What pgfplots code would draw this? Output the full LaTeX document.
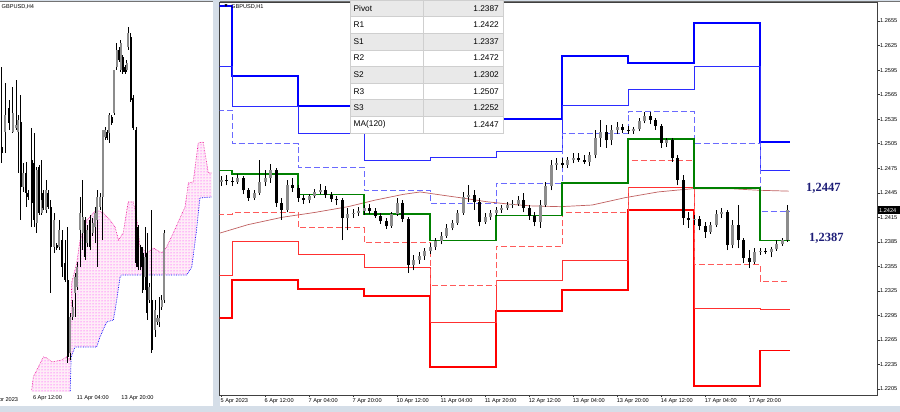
\documentclass[border=0pt]{standalone}
\usepackage{fontspec}
\setmainfont{Liberation Sans}
\newfontfamily\annfont{Liberation Serif}
\usepackage{pgfplots}
\usepackage{pgfplotstable}
\pgfplotsset{compat=1.18}
\usepgfplotslibrary{fillbetween}
\usetikzlibrary{patterns}
\pgfplotsset{/tikz/fill between/on layer=main}
\definecolor{winframe}{HTML}{D5DEE8}
\definecolor{rthree}{HTML}{0000FF}
\definecolor{rtwo}{HTML}{2B2BFF}
\definecolor{rone}{HTML}{6A6AFF}
\definecolor{pivg}{HTML}{008000}
\definecolor{sone}{HTML}{FF5A5A}
\definecolor{stwo}{HTML}{FF3030}
\definecolor{sthree}{HTML}{FF0000}
\definecolor{maline}{HTML}{C06060}
\definecolor{upc}{HTML}{8C8C8C}
\definecolor{annc}{HTML}{1E1E78}
\definecolor{rowg}{HTML}{E9E9E9}
\definecolor{cellb}{HTML}{CFCFCF}
\newcommand{\tiklab}{\fontsize{5.6}{6.5}\selectfont}

% H1 candles, 2-hour steps (bar index, 1 bar = 1 hour)
\pgfplotstableread{
i O H L C
0 1.2458 1.2465 1.2453 1.2461
2 1.2461 1.2467 1.2454 1.2459
4 1.2459 1.2464 1.2453 1.2458
6 1.2458 1.2468 1.2456 1.2463
8 1.2463 1.2465 1.2443 1.2448
10 1.2448 1.2451 1.2435 1.2439
12 1.2439 1.2448 1.2436 1.2445
14 1.2445 1.2485 1.2442 1.2458
16 1.2458 1.2473 1.2453 1.2463
18 1.2463 1.2480 1.2457 1.2473
20 1.2473 1.2475 1.2428 1.2432
22 1.2432 1.2439 1.2412 1.2424
24 1.2424 1.2461 1.2421 1.2454
26 1.2454 1.2463 1.2446 1.2451
28 1.2451 1.2454 1.2434 1.2439
30 1.2439 1.2442 1.2431 1.2436
32 1.2436 1.2443 1.2432 1.2441
34 1.2441 1.2450 1.2439 1.2446
36 1.2446 1.2456 1.2443 1.2448
38 1.2448 1.2453 1.2439 1.2442
40 1.2442 1.2446 1.2434 1.2437
42 1.2437 1.2441 1.2430 1.2436
44 1.2436 1.2439 1.2387 1.2414
46 1.2414 1.2426 1.2399 1.2419
48 1.2419 1.2425 1.2414 1.2420
50 1.2420 1.2428 1.2417 1.2423
52 1.2423 1.2430 1.2418 1.2426
54 1.2426 1.2431 1.2419 1.2423
56 1.2423 1.2426 1.2414 1.2417
58 1.2417 1.2420 1.2407 1.2410
60 1.2410 1.2414 1.2401 1.2404
62 1.2404 1.2421 1.2402 1.2419
64 1.2419 1.2439 1.2417 1.2432
66 1.2432 1.2436 1.2409 1.2413
68 1.2413 1.2415 1.2347 1.2357
70 1.2357 1.2369 1.2350 1.2363
72 1.2363 1.2372 1.2358 1.2368
74 1.2368 1.2377 1.2363 1.2374
76 1.2374 1.2384 1.2370 1.2379
78 1.2379 1.2390 1.2375 1.2386
80 1.2386 1.2397 1.2382 1.2392
82 1.2392 1.2407 1.2390 1.2402
84 1.2402 1.2412 1.2399 1.2408
86 1.2408 1.2424 1.2406 1.2420
88 1.2420 1.2446 1.2418 1.2440
90 1.2440 1.2454 1.2434 1.2442
92 1.2442 1.2448 1.2424 1.2434
94 1.2434 1.2439 1.2404 1.2409
96 1.2409 1.2420 1.2407 1.2415
98 1.2415 1.2424 1.2412 1.2420
100 1.2420 1.2428 1.2417 1.2424
102 1.2424 1.2430 1.2420 1.2426
104 1.2426 1.2434 1.2424 1.2430
106 1.2430 1.2436 1.2426 1.2431
108 1.2431 1.2441 1.2429 1.2436
110 1.2436 1.2445 1.2421 1.2426
112 1.2426 1.2430 1.2412 1.2417
114 1.2417 1.2421 1.2404 1.2409
116 1.2409 1.2436 1.2402 1.2430
118 1.2430 1.2458 1.2428 1.2453
120 1.2453 1.2485 1.2448 1.2479
122 1.2479 1.2487 1.2473 1.2481
124 1.2481 1.2487 1.2475 1.2479
126 1.2479 1.2489 1.2475 1.2485
128 1.2485 1.2494 1.2481 1.2487
130 1.2487 1.2494 1.2483 1.2485
132 1.2485 1.2491 1.2480 1.2483
134 1.2483 1.2495 1.2478 1.2491
136 1.2491 1.2522 1.2487 1.2512
138 1.2512 1.2534 1.2501 1.2519
140 1.2519 1.2528 1.2500 1.2509
142 1.2509 1.2528 1.2503 1.2522
144 1.2522 1.2531 1.2517 1.2525
146 1.2525 1.2529 1.2518 1.2522
148 1.2522 1.2527 1.2517 1.2520
150 1.2520 1.2525 1.2517 1.2523
152 1.2523 1.2536 1.2520 1.2533
154 1.2533 1.2544 1.2530 1.2539
156 1.2539 1.2544 1.2529 1.2534
158 1.2534 1.2536 1.2522 1.2527
160 1.2527 1.2529 1.2500 1.2506
162 1.2506 1.2512 1.2501 1.2509
164 1.2509 1.2512 1.2483 1.2487
166 1.2487 1.2491 1.2454 1.2461
168 1.2461 1.2467 1.2406 1.2414
170 1.2414 1.2421 1.2402 1.2412
172 1.2412 1.2418 1.2406 1.2413
174 1.2413 1.2417 1.2399 1.2404
176 1.2404 1.2409 1.2390 1.2397
178 1.2397 1.2409 1.2395 1.2406
180 1.2406 1.2424 1.2403 1.2419
182 1.2419 1.2426 1.2414 1.2421
184 1.2421 1.2424 1.2375 1.2381
186 1.2381 1.2412 1.2377 1.2406
188 1.2406 1.2430 1.2377 1.2387
190 1.2387 1.2390 1.2359 1.2365
192 1.2365 1.2375 1.2353 1.2360
194 1.2360 1.2377 1.2358 1.2372
196 1.2372 1.2377 1.2369 1.2374
198 1.2374 1.2377 1.2370 1.2372
200 1.2372 1.2379 1.2366 1.2376
202 1.2376 1.2387 1.2374 1.2382
204 1.2382 1.2390 1.2380 1.2387
206 1.2387 1.2430 1.2385 1.2424
}\hone

% daily pivot levels (start bar of each day)
\pgfplotstableread{
i R3 R2 R1 P S1 S2 S3
-1 1.2673 1.2599 1.2546 1.2472 1.2419 1.2344 1.2292
4 1.2588 1.2551 1.2505 1.2468 1.2421 1.2385 1.2338
28 1.2551 1.2518 1.2476 1.2443 1.2402 1.2369 1.2327
52 1.2525 1.2484 1.2448 1.2419 1.2384 1.2354 1.2319
76 1.2533 1.2488 1.2432 1.2387 1.2332 1.2287 1.2232
100 1.2535 1.2495 1.2457 1.2417 1.2379 1.2338 1.2300
124 1.2612 1.2552 1.2517 1.2457 1.2421 1.2362 1.2326
148 1.2604 1.2571 1.2544 1.2511 1.2484 1.2451 1.2424
172 1.2653 1.2599 1.2505 1.2451 1.2357 1.2303 1.2209
196 1.2507 1.2472 1.2422 1.2387 1.2337 1.2302 1.2252
206.9 1.2507 1.2472 1.2422 1.2387 1.2337 1.2302 1.2252
}\piv

\pgfplotstableread{
i MA
-1.1 1.2395
9.8 1.2406
22.2 1.2415
34.2 1.2421
46.2 1.2428
56 1.2436
66.2 1.2443
72.4 1.2446
78.5 1.2443
86.9 1.2439
96.7 1.2434
105.1 1.2431
112.4 1.2429
123.3 1.2428
134.9 1.2430
146.9 1.2439
158.9 1.2446
165.1 1.2448
171.6 1.2450
185.1 1.2450
196 1.2448
206.5 1.2447
}\ma

% H4 candles
\pgfplotstableread{
j O H L C
0.6 1.24718 1.25198 1.24622 1.24682
1.9 1.24808 1.25102 1.24682 1.24910
3.3 1.24952 1.25000 1.24820 1.24862
4.5 1.24808 1.25078 1.24802 1.24922
5.7 1.24832 1.25120 1.24820 1.24850
6.5 1.24808 1.24910 1.24562 1.24880
7.4 1.24868 1.25030 1.24280 1.24478
8.3 1.24478 1.24622 1.24448 1.24562
9.3 1.24562 1.24628 1.24358 1.24442
10.1 1.24442 1.24460 1.24400 1.24418
11.3 1.24640 1.24832 1.24238 1.24382
12.1 1.24622 1.24802 1.24238 1.24280
13.1 1.24262 1.24598 1.24202 1.24580
14.0 1.24598 1.24610 1.24310 1.24322
14.9 1.24322 1.24640 1.24310 1.24400
15.5 1.24442 1.24460 1.24340 1.24352
16.4 1.24340 1.24520 1.24322 1.24460
17.3 1.24442 1.24460 1.24346 1.24358
18.1 1.24358 1.24400 1.23842 1.24118
19.3 1.24118 1.24322 1.24082 1.24280
20.2 1.24130 1.24142 1.24100 1.24112
21.2 1.24118 1.24280 1.24100 1.24220
22.1 1.24160 1.24220 1.23938 1.23998
23.2 1.24022 1.24160 1.23908 1.23920
24.2 1.23920 1.24238 1.23422 1.23458
25.0 1.23482 1.23722 1.23440 1.23698
26.0 1.23698 1.23800 1.23680 1.23758
26.8 1.23842 1.23962 1.23698 1.23938
27.6 1.23878 1.24028 1.23860 1.23998
28.6 1.24220 1.24418 1.23998 1.24322
29.5 1.24202 1.24520 1.24100 1.24298
30.5 1.24280 1.24298 1.24040 1.24058
31.2 1.24142 1.24250 1.24118 1.24220
32.1 1.24280 1.24310 1.24100 1.24118
33.1 1.24202 1.24292 1.24184 1.24262
33.9 1.24238 1.24358 1.24142 1.24322
34.8 1.24280 1.24460 1.23998 1.24418
35.7 1.24358 1.24442 1.24340 1.24418
36.7 1.24418 1.24820 1.24160 1.24820
37.6 1.24778 1.24838 1.24760 1.24820
38.3 1.24808 1.24820 1.24760 1.24772
39.0 1.24802 1.24922 1.24742 1.24910
39.9 1.24898 1.24910 1.24850 1.24862
40.7 1.24922 1.25180 1.24910 1.25180
41.7 1.25198 1.25342 1.25180 1.25300
42.5 1.25300 1.25318 1.25228 1.25240
43.1 1.25180 1.25360 1.25168 1.25342
43.8 1.25258 1.25270 1.25156 1.25168
44.6 1.25198 1.25210 1.25156 1.25168
45.2 1.25180 1.25240 1.25168 1.25222
45.8 1.25318 1.25438 1.25300 1.25402
46.7 1.25378 1.25402 1.24988 1.25000
47.6 1.25012 1.25030 1.24820 1.24832
48.6 1.24820 1.24838 1.23998 1.24022
49.4 1.24238 1.24250 1.23980 1.23998
50.2 1.24118 1.24130 1.23980 1.23998
51.0 1.24082 1.24118 1.23842 1.23860
51.8 1.23938 1.24238 1.23860 1.24058
52.5 1.24082 1.24202 1.23680 1.23722
53.3 1.23800 1.23902 1.23782 1.23878
54.2 1.23800 1.24340 1.23482 1.23500
55.4 1.23620 1.23800 1.23578 1.23740
56.2 1.23668 1.23710 1.23650 1.23692
56.9 1.23668 1.23818 1.23638 1.23692
57.7 1.23758 1.23830 1.23740 1.23800
58.6 1.23800 1.24220 1.23782 1.24202
}\hfour

\pgfplotstableread{
j v
11.3 1.23260
11.9 1.23338
15.5 1.23458
16.7 1.23452
18.5 1.23428
22.0 1.23440
23.8 1.23458
25.0 1.23440
25.6 1.23902
27.4 1.24022
28.6 1.24160
31.0 1.24280
34.5 1.24340
36.9 1.24322
39.3 1.24280
41.1 1.24238
42.3 1.24160
44.0 1.24202
45.8 1.24388
47.6 1.24388
48.8 1.24298
50.0 1.24118
52.4 1.24082
54.8 1.24112
57.7 1.24082
59.5 1.24118
61.9 1.24202
64.3 1.24292
66.1 1.24358
67.3 1.24502
69.0 1.24508
70.8 1.24742
72.6 1.24748
74.4 1.24562
75.6 1.24562
}\spanA

\pgfplotstableread{
j v
11.3 1.2320
25.0 1.2320
25.4 1.23458
26.8 1.23518
34.5 1.23518
35.7 1.23578
38.1 1.23668
40.5 1.23680
41.7 1.23800
42.9 1.23938
43.5 1.23950
66.7 1.23950
68.5 1.23998
70.2 1.24220
71.4 1.24412
75.6 1.24418
}\spanB

\pgfplotsset{
  wick/.style={draw=none, mark=none, forget plot,
    error bars/.cd, y dir=plus, y explicit, error mark=none,
    error bar style={line width=#1, draw=black, solid}},
  upbody/.style 2 args={draw=none, mark=none, forget plot,
    restrict expr to domain={\thisrow{C}-\thisrow{O}}{0:1},
    error bars/.cd, y dir=plus, y explicit, error mark=none,
    error bar style={line width=#1, draw=#2, solid}},
  dnbody/.style={draw=none, mark=none, forget plot,
    restrict expr to domain={\thisrow{C}-\thisrow{O}}{-1:0},
    error bars/.cd, y dir=plus, y explicit, error mark=none,
    error bar style={line width=#1, draw=black, solid}},
}

\begin{document}
\begin{tikzpicture}[x=1pt,y=1pt]
\fill[winframe] (-20pt,-10pt) rectangle (920pt,420pt);
\fill[white] (0pt,6pt) rectangle (212.5pt,411pt);
\fill[white] (219.5pt,6pt) rectangle (900pt,411pt);
\draw[black!55, line width=0.6pt] (0pt,411pt) -- (212.5pt,411pt);
\draw[black!55, line width=0.6pt] (219.5pt,411pt) -- (900pt,411pt);

% ---------------- left panel (H4) ----------------
\begin{axis}[
  at={(0pt,20pt)}, anchor=south west, scale only axis,
  width=212.5pt, height=390.5pt,
  xmin=0, xmax=75.9, ymin=1.23248, ymax=1.25591,
  axis x line*=bottom, axis y line*=right,
  axis line style={draw=black!75, line width=0.6pt},
  xtick={11.9,27.6,43.5},
  xticklabels={6 Apr 12:00,11 Apr 04:00,13 Apr 20:00},
  xticklabel style={anchor=north west, inner sep=0pt, font=\tiklab, xshift=-0.5pt, yshift=-0.5pt},
  ytick=\empty,
  tick align=outside, major tick length=2.5pt,
  tick style={black!80, line width=0.5pt},
  xtick pos=bottom,
]
\addplot[name path=spa, draw=none, forget plot] table[x=j, y=v] {\spanA};
\addplot[name path=spb, draw=none, forget plot] table[x=j, y=v] {\spanB};
\addplot[fill=magenta!7, draw=none, forget plot] fill between[of=spa and spb];
\addplot[pattern=dots, pattern color=magenta!90, draw=none, forget plot] fill between[of=spa and spb];
\addplot[magenta, densely dotted, line width=0.6pt, forget plot] table[x=j, y=v] {\spanA};
\addplot[blue, densely dotted, line width=0.7pt, forget plot] table[x=j, y=v] {\spanB};
\addplot[wick=0.6pt] table[x=j, y=L, y error expr=\thisrow{H}-\thisrow{L}] {\hfour};
\addplot[upbody={2pt}{upc}] table[x=j, y=O, y error expr=\thisrow{C}-\thisrow{O}] {\hfour};
\addplot[dnbody=2pt] table[x=j, y=C, y error expr=\thisrow{O}-\thisrow{C}] {\hfour};
\end{axis}
\node[anchor=west, inner sep=0pt, font=\tiklab] at (-9.5pt,11.5pt) {4 Apr 2023};
\node[anchor=west, inner sep=0pt, font=\tiklab] at (1.5pt,405.5pt) {GBPUSD,H4};

% ---------------- right panel (H1) ----------------
\begin{axis}[
  at={(219.5pt,17pt)}, anchor=south west, scale only axis,
  width=657.5pt, height=393pt,
  xmin=-0.545, xmax=238.5, ymin=1.21977, ymax=1.26783,
  axis line style={draw=black!75, line width=0.6pt},
  xtick={0,16,32,48,64,80,96,112,128,144,160,176,192},
  xticklabels={5 Apr 2023,6 Apr 12:00,7 Apr 04:00,7 Apr 20:00,10 Apr 12:00,11 Apr 04:00,11 Apr 20:00,12 Apr 12:00,13 Apr 04:00,13 Apr 20:00,14 Apr 12:00,17 Apr 04:00,17 Apr 20:00},
  xticklabel style={anchor=north west, inner sep=0pt, font=\tiklab, xshift=-0.5pt, yshift=-0.5pt},
  ytick={1.2205,1.2235,1.2265,1.2295,1.2325,1.2355,1.2385,1.2415,1.2445,1.2475,1.2505,1.2535,1.2565,1.2595,1.2625,1.2655},
  yticklabel pos=right,
  yticklabel style={anchor=west, inner sep=0pt, font=\tiklab, xshift=0.5pt,
    /pgf/number format/.cd, fixed, fixed zerofill, precision=4, assume math mode=true},
  tick align=outside, major tick length=2.5pt,
  tick style={black!80, line width=0.5pt},
  xtick pos=bottom, ytick pos=right,
]
\addplot[const plot, sthree, line width=1.7pt] table[x=i, y=S3] {\piv};
\addplot[const plot, stwo, line width=0.9pt] table[x=i, y=S2] {\piv};
\addplot[const plot, sone, line width=0.9pt, dash pattern=on 6pt off 3pt] table[x=i, y=S1] {\piv};
\addplot[const plot, rthree, line width=1.7pt] table[x=i, y=R3] {\piv};
\addplot[const plot, rtwo, line width=0.9pt] table[x=i, y=R2] {\piv};
\addplot[const plot, rone, line width=0.9pt, dash pattern=on 6pt off 3pt] table[x=i, y=R1] {\piv};
\addplot[maline, line width=0.7pt] table[x=i, y=MA] {\ma};
\addplot[const plot, pivg, line width=1.4pt] table[x=i, y=P] {\piv};
\addplot[wick=0.6pt] table[x=i, y=L, y error expr=\thisrow{H}-\thisrow{L}] {\hone};
\addplot[upbody={3pt}{upc}] table[x=i, y=O, y error expr=\thisrow{C}-\thisrow{O}] {\hone};
\addplot[dnbody=3pt] table[x=i, y=C, y error expr=\thisrow{O}-\thisrow{C}] {\hone};
\end{axis}

% current price label
\fill[black] (878pt,198pt) rectangle (900pt,205.5pt);
\node[anchor=west, inner sep=0pt, font=\tiklab, text=white] at (879pt,201.7pt) {1.2424};

% title of H1 panel
\node[anchor=west, inner sep=0pt, font=\fontsize{5}{6}\selectfont] at (223.5pt,405.8pt) {▼};
\node[anchor=west, inner sep=0pt, font=\tiklab] at (231pt,405.5pt) {GBPUSD,H1};

% pivot table
\foreach \k/\lab/\val in {0/Pivot/1.2387,1/R1/1.2422,2/S1/1.2337,3/R2/1.2472,4/S2/1.2302,5/R3/1.2507,6/S3/1.2252,7/MA(120)/1.2447}{
  \pgfmathsetmacro{\yt}{412-16.6*\k}
  \pgfmathsetmacro{\yb}{412-16.6*(\k+1)}
  \pgfmathsetmacro{\yc}{412-16.6*(\k+0.5)}
  \pgfmathparse{int(mod(\k,2))}
  \ifnum\pgfmathresult=0
    \fill[rowg] (350pt,\yb pt) rectangle (503pt,\yt pt);
  \else
    \fill[white] (350pt,\yb pt) rectangle (503pt,\yt pt);
  \fi
  \draw[cellb, line width=0.4pt] (350pt,\yb pt) rectangle (423pt,\yt pt);
  \draw[cellb, line width=0.4pt] (423pt,\yb pt) rectangle (503pt,\yt pt);
  \node[anchor=west, inner sep=0pt, font=\fontsize{8.3}{10}\selectfont] at (353.5pt,\yc pt) {\lab};
  \node[anchor=east, inner sep=0pt, font=\fontsize{8.3}{10}\selectfont] at (499pt,\yc pt) {\val};
}

% annotations
\node[anchor=west, inner sep=0pt, text=annc, font=\annfont\bfseries\fontsize{12.5}{14}\selectfont] at (806pt,223.5pt) {1,2447};
\node[anchor=west, inner sep=0pt, text=annc, font=\annfont\bfseries\fontsize{12.5}{14}\selectfont] at (809pt,173.5pt) {1,2387};

\pgfresetboundingbox
\useasboundingbox (0pt,0pt) rectangle (900pt,412pt);
\end{tikzpicture}
\end{document}
